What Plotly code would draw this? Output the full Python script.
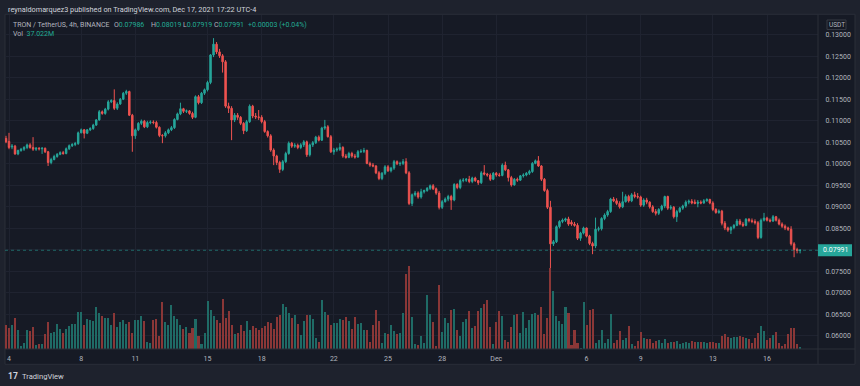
import plotly.graph_objects as go
import pandas as pd

# ---------------- data (TRX/USDT 4h, Binance) ----------------
open_ = [
    .1059, .1052, .1039, .1041, .1023, .1031, .1034, .1038, .1044, .1038,
    .1034, .1036, .1035, .1036, .1028, .1003, .1010, .1017, .1022, .1026,
    .1024, .1035, .1042, .1045, .1047, .1072, .1079, .1071, .1079, .1082,
    .1090, .1102, .1121, .1117, .1127, .1144, .1147, .1129, .1139, .1150,
    .1164, .1168, .1113, .1065, .1079, .1094, .1099, .1086, .1096, .1097,
    .1096, .1085, .1066, .1065, .1072, .1079, .1084, .1103, .1116, .1128,
    .1122, .1123, .1117, .1108, .1156, .1142, .1164, .1172, .1189, .1253,
    .1278, .1260,
    .1251, .1237, .1134, .1129, .1102, .1113, .1108, .1094, .1077, .1098,
    .1134, .1111, .1109, .1108, .1098, .1075, .1065, .1032, .1018, .1003,
    .0987, .1005, .1024, .1048, .1041, .1043, .1038, .1044, .1051, .1021,
    .1044, .1049, .1062, .1055, .1083, .1086, .1063, .1028, .1032, .1034,
    .1038, .1018, .1015, .1024, .1018, .1016, .1028, .1029, .1031, .1001,
    .0997, .0995, .0979,
    .0966, .0978, .0993, .0984, .0990, .1005, .1000, .1001, .1005, .0979,
    .0908, .0928, .0932, .0923, .0935, .0938, .0943, .0949, .0942, .0932,
    .0899, .0912, .0918, .0924, .0916, .0952, .0945, .0961, .0962, .0964,
    .0959, .0967, .0961, .0956, .0979, .0976, .0974, .0964, .0978, .0974,
    .0973, .0997, .0986, .0968, .0951, .0964, .0962, .0972, .0974, .0978,
    .0982, .1001, .1007, .0995, .0964, .0938, .0899, .0814, .0819, .0854,
    .0866,
    .0869, .0872, .0864, .0860, .0857, .0827, .0839, .0851, .0832, .0815,
    .0809, .0848, .0849, .0873, .0881, .0889, .0918, .0914, .0908, .0900,
    .0912, .0924, .0914, .0928, .0924, .0923, .0904, .0916, .0911, .0900,
    .0889, .0885, .0894, .0902, .0924, .0897, .0899, .0877, .0889, .0897,
    .0902, .0911, .0913, .0911, .0908, .0911, .0909, .0914, .0917, .0909,
    .0894, .0887, .0890, .0862, .0851, .0846, .0852, .0857, .0867, .0860,
    .0857, .0871, .0868, .0866, .0863, .0829, .0869, .0874, .0869, .0867,
    .0877, .0869, .0860, .0855, .0851, .0848, .0814, .0801, .07986,
]
high = [
    .1065, .1072, .1046, .1044, .1033, .1037, .1041, .1047, .1048, .1062,
    .1039, .1039, .1039, .1038, .1030, .1014, .1021, .1025, .1029, .1030,
    .1038, .1045, .1048, .1051, .1075, .1082, .1081, .1081, .1085, .1093,
    .1104, .1125, .1124, .1130, .1148, .1150, .1173, .1143, .1153, .1167,
    .1172, .1170, .1116, .1082, .1097, .1103, .1102, .1100, .1101, .1101,
    .1100, .1087, .1069, .1076, .1082, .1088, .1106, .1119, .1142, .1130,
    .1126, .1125, .1121, .1159, .1160, .1167, .1175, .1193, .1255, .1292,
    .1283, .1267,
    .1255, .1241, .1142, .1134, .1118, .1118, .1111, .1097, .1102, .1138,
    .1137, .1118, .1125, .1113, .1102, .1078, .1069, .1036, .1021, .1007,
    .1009, .1028, .1052, .1051, .1048, .1047, .1048, .1055, .1054, .1047,
    .1053, .1065, .1066, .1086, .1102, .1090, .1067, .1037, .1038, .1048,
    .1041, .1023, .1028, .1028, .1023, .1032, .1034, .1037, .1033, .1005,
    .1002, .0997, .0983,
    .0981, .0997, .0997, .0993, .1009, .1008, .1005, .1011, .1013, .0983,
    .0931, .0937, .0936, .0942, .0940, .0946, .0952, .0953, .0945, .0937,
    .0916, .0922, .0928, .0928, .0955, .0955, .0965, .0967, .0967, .0972,
    .0970, .0970, .0962, .0983, .0997, .0979, .0978, .0981, .0981, .0979,
    .1001, .1005, .0988, .0972, .0967, .0968, .0974, .0978, .0981, .0986,
    .1004, .1010, .1018, .0997, .0967, .0942, .0914, .0823, .0857, .0869,
    .0873,
    .0875, .0877, .0869, .0865, .0862, .0842, .0854, .0852, .0835, .0819,
    .0875, .0854, .0876, .0885, .0893, .0921, .0923, .0920, .0913, .0935,
    .0929, .0928, .0932, .0935, .0932, .0926, .0920, .0921, .0913, .0904,
    .0895, .0897, .0905, .0926, .0926, .0904, .0902, .0893, .0900, .0905,
    .0915, .0917, .0918, .0917, .0916, .0915, .0918, .0920, .0919, .0913,
    .0897, .0894, .0893, .0867, .0854, .0855, .0860, .0872, .0872, .0865,
    .0874, .0874, .0873, .0871, .0867, .0873, .0886, .0877, .0873, .0881,
    .0879, .0873, .0864, .0859, .0854, .0855, .0818, .0805, .08019,
]
low = [
    .1048, .1034, .1034, .1021, .1020, .1028, .1030, .1034, .1035, .1030,
    .1030, .1031, .1023, .1025, .0995, .0999, .1008, .1014, .1020, .1021,
    .1022, .1032, .1039, .1041, .1044, .1071, .1059, .1069, .1076, .1079,
    .1088, .1100, .1114, .1114, .1124, .1141, .1125, .1125, .1137, .1148,
    .1160, .1111, .1028, .1058, .1076, .1090, .1083, .1083, .1092, .1092,
    .1082, .1062, .1048, .1061, .1069, .1076, .1081, .1101, .1113, .1118,
    .1118, .1114, .1104, .1106, .1138, .1139, .1160, .1168, .1185, .1248,
    .1255, .1246,
    .1212, .1130, .1118, .1055, .1097, .1102, .1090, .1069, .1074, .1095,
    .1106, .1104, .1102, .1094, .1072, .1061, .1028, .0997, .0997, .0979,
    .0983, .1002, .1021, .1037, .1037, .1034, .1034, .1039, .1016, .1017,
    .1039, .1046, .1052, .1053, .1079, .1061, .1025, .1021, .1028, .1030,
    .1014, .1012, .1013, .1014, .1012, .1014, .1025, .1025, .0999, .0993,
    .0992, .0976, .0962,
    .0962, .0974, .0981, .0980, .0986, .0997, .0995, .0997, .0976, .0904,
    .0902, .0924, .0919, .0919, .0931, .0935, .0939, .0939, .0928, .0894,
    .0895, .0910, .0913, .0893, .0913, .0941, .0941, .0957, .0958, .0955,
    .0955, .0958, .0951, .0953, .0973, .0970, .0960, .0962, .0970, .0970,
    .0971, .0983, .0959, .0947, .0949, .0958, .0960, .0968, .0971, .0974,
    .0979, .0999, .0993, .0960, .0935, .0895, .0757, .0809, .0816, .0850,
    .0862,
    .0865, .0856, .0856, .0854, .0823, .0821, .0836, .0829, .0811, .0790,
    .0804, .0843, .0845, .0869, .0877, .0886, .0911, .0904, .0896, .0897,
    .0910, .0910, .0911, .0920, .0919, .0900, .0900, .0906, .0896, .0886,
    .0880, .0881, .0890, .0897, .0893, .0893, .0873, .0865, .0886, .0893,
    .0898, .0906, .0906, .0906, .0899, .0906, .0907, .0912, .0906, .0890,
    .0884, .0884, .0857, .0846, .0842, .0837, .0848, .0855, .0857, .0853,
    .0855, .0864, .0862, .0859, .0825, .0826, .0866, .0866, .0864, .0865,
    .0866, .0857, .0851, .0846, .0844, .0810, .0783, .0792, .07919,
]
close = [
    .1051, .1038, .1041, .1023, .1031, .1034, .1038, .1044, .1038, .1034,
    .1036, .1035, .1036, .1028, .1003, .1010, .1017, .1022, .1026, .1024,
    .1035, .1042, .1045, .1047, .1072, .1079, .1071, .1079, .1082, .1090,
    .1102, .1121, .1117, .1127, .1144, .1147, .1129, .1139, .1150, .1164,
    .1168, .1113, .1065, .1079, .1094, .1099, .1086, .1096, .1097, .1096,
    .1085, .1066, .1065, .1072, .1079, .1084, .1103, .1116, .1128, .1122,
    .1123, .1117, .1108, .1156, .1142, .1164, .1172, .1189, .1253, .1278,
    .1260, .1251,
    .1237, .1134, .1129, .1102, .1113, .1108, .1094, .1077, .1098, .1134,
    .1111, .1109, .1108, .1098, .1075, .1065, .1032, .1018, .1003, .0987,
    .1005, .1024, .1048, .1041, .1043, .1038, .1044, .1051, .1021, .1044,
    .1049, .1062, .1055, .1083, .1086, .1063, .1028, .1032, .1034, .1038,
    .1018, .1015, .1024, .1018, .1016, .1028, .1029, .1031, .1001, .0997,
    .0995, .0979, .0966,
    .0978, .0993, .0984, .0990, .1005, .1000, .1001, .1005, .0979, .0908,
    .0928, .0932, .0923, .0935, .0938, .0943, .0949, .0942, .0932, .0899,
    .0912, .0918, .0924, .0916, .0952, .0945, .0961, .0962, .0964, .0959,
    .0967, .0961, .0956, .0979, .0976, .0974, .0964, .0978, .0974, .0973,
    .0997, .0986, .0968, .0951, .0964, .0962, .0972, .0974, .0978, .0982,
    .1001, .1007, .0995, .0964, .0938, .0899, .0814, .0819, .0854, .0866,
    .0869,
    .0872, .0860, .0860, .0857, .0827, .0839, .0851, .0832, .0815, .0809,
    .0848, .0849, .0873, .0881, .0889, .0918, .0914, .0908, .0900, .0912,
    .0924, .0914, .0928, .0924, .0923, .0904, .0916, .0911, .0900, .0889,
    .0885, .0894, .0902, .0924, .0897, .0899, .0877, .0889, .0897, .0902,
    .0911, .0913, .0909, .0908, .0911, .0909, .0914, .0917, .0909, .0894,
    .0887, .0890, .0862, .0851, .0846, .0852, .0857, .0867, .0860, .0857,
    .0871, .0868, .0866, .0863, .0829, .0869, .0874, .0869, .0867, .0877,
    .0869, .0860, .0855, .0851, .0848, .0814, .0801, .07986, .07991,
]
# volume in millions of TRX
volume_m = [
    432, 385, 432, 548, 338, 64, 122, 338, 327, 397,
    82, 93, 105, 268, 478, 297, 309, 443, 367, 286,
    362, 408, 449, 449, 665, 653, 432, 531, 513, 502,
    747, 636, 589, 560, 554, 432, 642, 397, 478, 519,
    455, 484, 292, 513, 519, 589, 502, 140, 117, 513,
    542, 245, 828, 484, 437, 782, 583, 542, 432, 362,
    397, 297, 379, 531, 233, 105, 292, 857, 700, 589,
    519, 467, 892, 554, 671, 437, 268, 292, 432, 332,
    496, 344, 414, 379, 344, 379, 414, 484, 467, 356,
    577, 607, 799, 741, 642, 554, 601, 449, 257, 502,
    607, 607, 537, 210, 128, 863, 665, 601, 432, 472,
    467, 537, 525, 572, 496, 356, 577, 455, 467, 350,
    338, 134, 432, 688, 502, 122, 292, 274, 432, 321,
    268, 292, 636, 1318, 1464, 572, 105, 76, 233, 117,
    957,
    618, 484, 64, 1132, 303, 548, 472, 688, 706, 350,
    239, 484, 537, 671, 373, 414, 671, 723, 799, 863,
    397, 93, 490, 677, 589, 163, 134, 397, 607, 630,
    297, 653, 385, 513, 618, 636, 607, 747, 268, 560,
    1435, 1027, 583, 502, 455, 747, 647, 82, 350, 117,
    35, 834, 432, 700, 706, 122, 163, 338, 122, 192,
    618, 117, 175, 327, 163, 198, 408, 105, 70, 152,
    303, 198, 181, 192, 117, 152, 163, 117, 181, 117,
    140, 140, 152, 105, 117, 140, 117, 152, 140, 140,
    140, 140, 117, 128, 140, 117, 117, 233, 280, 222,
    210, 222, 222, 239, 222, 198, 187, 117, 198, 292,
    408, 327, 163, 210, 251, 315, 122, 58, 93, 280,
    385, 373, 93, 37,
]
price_ticks = [0.060, 0.065, 0.070, 0.075, 0.080, 0.085, 0.090, 0.095,
               0.100, 0.105, 0.110, 0.115, 0.120, 0.125, 0.130]
# the 0.08000 label is hidden behind the last-price badge in the reference
price_labels = ["0.06000", "0.06500", "0.07000", "0.07500", "", "0.08500",
                "0.09000", "0.09500", "0.10000", "0.10500", "0.11000",
                "0.11500", "0.12000", "0.12500", "0.13000"]
day_ticks = ["2021-11-04", "2021-11-08", "2021-11-11", "2021-11-15",
             "2021-11-18", "2021-11-22", "2021-11-25", "2021-11-28",
             "2021-12-01", "2021-12-06", "2021-12-09", "2021-12-13",
             "2021-12-16"]
day_labels = ["4", "8", "11", "15", "18", "22", "25", "28", "Dec",
              "6", "9", "13", "16"]
last_vol_text = "37.022M"
change_text = "+0.00003 (+0.04%)"

times = pd.date_range("2021-11-03 20:00", periods=len(close), freq="4h")

# ---------------- styling ----------------
W, H = 860, 386
UP, DOWN = "#26a69a", "#ef5350"
VOL_UP, VOL_DOWN = "#1f6b66", "#8a3737"
BG, OUTER, BORDER = "#161a25", "#1e222d", "#2a2e39"
GRID = "#1f2330"
TXT = "#b2b5be"
TEAL = "#22ab94"
FONT = "Roboto"

L_PX, R_PX, T_PX, B_PX = 5, 818, 14.5, 349


def px(x):
    return x / W


def py(y):
    return (H - y) / H


vol_colors = [VOL_UP if c >= o else VOL_DOWN for o, c in zip(open_, close)]

fig = go.Figure()
fig.add_trace(go.Bar(
    x=times, y=volume_m, yaxis="y2", marker=dict(color=vol_colors, line=dict(width=0)),
    width=4 * 3600 * 1000 * 0.68, hoverinfo="skip", showlegend=False))
fig.add_trace(go.Candlestick(
    x=times, open=open_, high=high, low=low, close=close,
    increasing=dict(line=dict(color=UP, width=1), fillcolor=UP),
    decreasing=dict(line=dict(color=DOWN, width=1), fillcolor=DOWN),
    whiskerwidth=0, showlegend=False))

last = close[-1]
shapes = [
    dict(type="rect", xref="paper", yref="paper", x0=px(5), x1=px(855),
         y0=py(364.3), y1=py(14.3), fillcolor=BG, line=dict(color=BORDER, width=1),
         layer="below"),
    dict(type="line", xref="paper", yref="paper", x0=px(R_PX), x1=px(R_PX),
         y0=py(364.3), y1=py(14.3), line=dict(color=BORDER, width=1)),
    dict(type="line", xref="paper", yref="paper", x0=px(5), x1=px(855),
         y0=py(B_PX), y1=py(B_PX), line=dict(color=BORDER, width=1)),
    dict(type="line", xref="paper", yref="y", x0=px(L_PX), x1=px(R_PX),
         y0=last, y1=last, line=dict(color="rgba(38,166,154,0.55)", width=1, dash="dot")),
    dict(type="rect", xref="paper", yref="y", x0=px(R_PX), x1=px(852),
         y0=last - 0.0014, y1=last + 0.0014, fillcolor=UP, line=dict(width=0)),
    dict(type="rect", xref="paper", yref="paper", x0=px(827), x1=px(846),
         y0=py(29.5), y1=py(20), fillcolor=BG, line=dict(color="#363a45", width=1)),
]

ann = []


def text(x, y, s, size=7, color=TXT, anchor="left"):
    ann.append(dict(x=px(x), y=py(y), xref="paper", yref="paper", text=s,
                    showarrow=False, xanchor=anchor, yanchor="middle",
                    font=dict(family=FONT, size=size, color=color)))


text(6, 9.3, "reynaldomarquez3 published on TradingView.com, Dec 17, 2021 17:22 UTC-4",
     size=7.3, color="#d1d4dc")
text(10.5, 25.3, "TRON / TetherUS, 4h, BINANCE")
text(111.5, 25.3, f"O<span style='color:{TEAL}'>{open_[-1]:.5f}</span>")
text(148.5, 25.3, f"H<span style='color:{TEAL}'>{high[-1]:.5f}</span>")
text(181.3, 25.3, f"L<span style='color:{TEAL}'>{low[-1]:.5f}</span>")
text(211.8, 25.3, f"C<span style='color:{TEAL}'>{close[-1]:.5f}</span>")
text(245.5, 25.3, f"<span style='color:{TEAL}'>{change_text}</span>")
text(10.5, 34.5, f"Vol  <span style='color:{TEAL}'>{last_vol_text}</span>")
text(836.5, 24.8, "USDT", size=6.5, anchor="center")
text(835, 250, f"{last:.5f}", size=7, color="#ffffff", anchor="center")
text(6, 376, "<b>17</b>", size=8.5, color="#d1d4dc")
text(20, 376.3, "TradingView", size=7.6, color="#d1d4dc")

p_top = 0.134693
p_bot = 0.056975
t_left = pd.Timestamp("2021-11-03 18:41")
t_right = pd.Timestamp("2021-12-18 19:48")

fig.update_layout(
    width=W, height=H, margin=dict(l=0, r=0, t=0, b=0),
    paper_bgcolor=OUTER, plot_bgcolor=BG,
    shapes=shapes, annotations=ann, showlegend=False, bargap=0,
    xaxis=dict(domain=[px(L_PX), px(R_PX)], range=[t_left, t_right],
               rangeslider=dict(visible=False), type="date",
               tickvals=pd.to_datetime(day_ticks), ticktext=day_labels,
               showgrid=True, gridcolor=GRID, gridwidth=1, zeroline=False,
               ticks="outside", ticklen=3, tickcolor="rgba(0,0,0,0)",
               tickfont=dict(family=FONT, size=7, color=TXT), showline=False),
    yaxis=dict(domain=[py(B_PX), py(T_PX)], range=[p_bot, p_top], side="right",
               tickvals=price_ticks, ticktext=price_labels, showgrid=True,
               gridcolor=GRID, gridwidth=1, zeroline=False,
               ticks="outside", ticklen=5, tickcolor="rgba(0,0,0,0)",
               tickfont=dict(family=FONT, size=7, color=TXT), showline=False),
    yaxis2=dict(domain=[py(B_PX), py(T_PX)], overlaying="y", range=[0, 5854],
                visible=False, showgrid=False),
)

fig.write_html("out.html",
               config={"displayModeBar": False},
               post_script="document.body.style.margin='0';"
                           "document.body.style.overflow='hidden';")
